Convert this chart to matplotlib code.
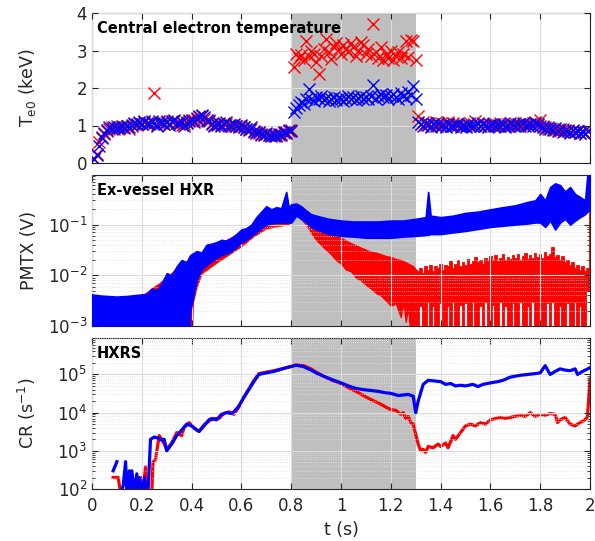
import numpy as np
import matplotlib.pyplot as plt
from matplotlib.ticker import LogLocator, NullFormatter, FuncFormatter

# --- datos panel superior: Te0 (keV), muestras cada 10 ms ---
t_te = np.arange(1, 200) / 100.0

te_blue = [0.10, 0.22, 0.45, 0.68, 0.80, 0.88, 0.95, 0.92, 0.97, 0.93,
           0.95, 0.98, 0.93, 1.00, 0.96, 1.02, 1.08, 1.05, 1.10, 1.03,
           1.12, 1.08, 1.05, 1.10, 1.06, 1.00, 1.12, 1.08, 1.05, 1.10,
           1.02, 1.12, 1.15, 1.08, 1.05, 1.10, 1.00, 1.08, 1.12, 1.15,
           1.10, 1.18, 1.25, 1.28, 1.22, 1.15, 1.12, 1.05, 1.00, 1.02,
           1.08, 1.00, 1.05, 1.10, 1.02, 0.98, 1.05, 1.00, 0.95, 1.02,
           0.95, 0.92, 0.88, 0.95, 0.85, 0.80, 0.82, 0.78, 0.75, 0.80,
           0.74, 0.72, 0.76, 0.73, 0.78, 0.75, 0.82, 0.80, 0.88, 0.85,
           1.35, 1.48, 1.55, 1.62, 1.58, 1.70, 1.98, 1.72, 1.65, 1.75,
           1.70, 1.78, 1.68, 1.74, 1.66, 1.72, 1.76, 1.68, 1.74, 1.70,
           1.66, 1.72, 1.78, 1.70, 1.75, 1.68, 1.74, 1.80, 1.72, 1.76,
           1.70, 1.78, 2.08, 1.72, 1.80, 1.85, 1.75, 1.82, 1.70, 1.78,
           1.85, 1.76, 1.72, 1.88, 1.80, 1.74, 1.90, 1.82, 2.05, 1.72,
           1.10, 1.05, 0.98, 1.08, 1.02, 0.95, 1.05, 1.00, 1.06, 0.98,
           1.02, 0.96, 1.04, 1.00, 0.98, 1.05, 1.02, 0.95, 1.00, 0.97,
           1.04, 1.00, 0.98, 1.02, 1.06, 0.99, 1.03, 1.00, 0.97, 1.02,
           1.05, 0.98, 1.02, 1.00, 1.04, 0.97, 1.00, 1.08, 1.02, 0.98,
           1.03, 1.00, 1.06, 0.98, 1.02, 1.05, 1.00, 1.08, 1.04, 1.00,
           0.95, 0.92, 0.96, 0.90, 0.88, 0.93, 0.86, 0.90, 0.84, 0.88,
           0.85, 0.80, 0.88, 0.82, 0.86, 0.80, 0.84, 0.78, 0.85]

te_red = [0.12, 0.25, 0.55, 0.70, 0.78, 0.85, 0.90, 0.95, 0.92, 0.98,
          0.93, 0.97, 0.95, 0.99, 0.92, 1.00, 1.05, 1.02, 1.08, 1.05,
          1.10, 1.05, 1.08, 1.12, 1.88, 1.02, 1.08, 1.10, 1.03, 1.12,
          1.05, 1.10, 1.12, 1.06, 1.08, 1.02, 1.05, 1.10, 1.15, 1.12,
          1.15, 1.20, 1.22, 1.25, 1.18, 1.12, 1.15, 1.08, 1.02, 1.05,
          1.05, 1.02, 1.08, 1.05, 1.00, 1.02, 1.00, 0.98, 0.98, 1.00,
          0.97, 0.90, 0.90, 0.92, 0.82, 0.83, 0.80, 0.76, 0.78, 0.77,
          0.76, 0.74, 0.72, 0.75, 0.76, 0.78, 0.80, 0.84, 0.85, 0.88,
          2.55, 2.92, 2.80, 2.88, 2.75, 3.25, 2.85, 3.00, 2.90, 2.70,
          2.38, 2.85, 3.05, 3.30, 2.95, 2.78, 3.10, 3.20, 3.05, 2.90,
          3.15, 3.05, 2.95, 3.20, 3.10, 2.85, 3.00, 3.22, 3.15, 2.90,
          3.05, 2.85, 3.70, 2.95, 2.80, 3.10, 2.75, 2.90, 2.80, 3.00,
          2.75, 2.85, 2.95, 2.80, 2.90, 3.25, 2.82, 3.28, 3.25, 2.75,
          1.25, 1.05, 1.10, 1.02, 1.08, 0.98, 1.05, 1.10, 1.00, 1.08,
          1.05, 1.00, 1.10, 0.98, 1.06, 1.02, 1.08, 0.99, 1.05, 1.00,
          1.02, 1.08, 1.00, 1.12, 1.04, 0.98, 1.06, 1.02, 1.00, 1.05,
          1.00, 1.04, 0.98, 1.06, 1.02, 1.00, 1.05, 0.98, 1.03, 1.08,
          1.00, 1.05, 1.02, 1.08, 0.98, 1.04, 1.06, 1.10, 1.02, 1.15,
          0.98, 0.95, 0.92, 0.94, 0.90, 0.88, 0.92, 0.86, 0.90, 0.85,
          0.88, 0.84, 0.86, 0.82, 0.85, 0.80, 0.83, 0.80, 0.86]

# --- panel medio: envolventes de la señal PMTX (V) ---
t_pm_blue = [0.00, 0.03, 0.06, 0.10, 0.14, 0.18, 0.22, 0.24, 0.26, 0.28,
             0.30, 0.32, 0.34, 0.36, 0.38, 0.39, 0.395, 0.42, 0.44, 0.46,
             0.48, 0.50, 0.52, 0.54, 0.56, 0.58, 0.60, 0.62, 0.64, 0.66,
             0.68, 0.70, 0.72, 0.74, 0.76, 0.78, 0.79, 0.80, 0.82, 0.84,
             0.86, 0.88, 0.90, 0.95, 1.00, 1.05, 1.10, 1.15, 1.20, 1.25,
             1.30, 1.34, 1.35, 1.36, 1.40, 1.45, 1.50, 1.55, 1.60, 1.65,
             1.70, 1.75, 1.78, 1.80, 1.82, 1.84, 1.86, 1.88, 1.90, 1.92,
             1.94, 1.96, 1.98, 1.99, 2.00]
pm_blue_hi = [4.2e-3, 4.0e-3, 3.9e-3, 3.8e-3, 3.9e-3, 4.1e-3, 4.3e-3, 5.5e-3, 5.0e-3, 7.0e-3,
              1.1e-2, 1.0e-2, 1.5e-2, 2.0e-2, 1.8e-2, 2.3e-2, 2.5e-2, 3.0e-2, 2.8e-2, 4.0e-2,
              4.2e-2, 4.5e-2, 5.0e-2, 4.8e-2, 5.5e-2, 6.5e-2, 8.0e-2, 8.5e-2, 1.0e-1, 1.4e-1,
              1.8e-1, 2.3e-1, 2.0e-1, 2.2e-1, 2.1e-1, 4.4e-1, 2.2e-1, 2.5e-1, 2.6e-1, 2.3e-1,
              1.9e-1, 1.6e-1, 1.5e-1, 1.3e-1, 1.2e-1, 1.15e-1, 1.15e-1, 1.15e-1, 1.2e-1, 1.2e-1,
              1.3e-1, 1.4e-1, 4.4e-1, 1.5e-1, 1.4e-1, 1.5e-1, 1.7e-1, 1.8e-1, 2.0e-1, 2.2e-1,
              2.4e-1, 2.8e-1, 3.0e-1, 4.0e-1, 3.0e-1, 5.5e-1, 6.5e-1, 6.0e-1, 4.5e-1, 5.5e-1,
              4.0e-1, 3.5e-1, 3.0e-1, 1.0, 1.0]
pm_blue_lo = [5e-4, 5e-4, 5e-4, 5e-4, 5e-4, 5e-4, 5e-4, 5e-4, 5e-4, 5e-4,
              5e-4, 5e-4, 5e-4, 5e-4, 5e-4, 5e-4, 2.0e-3, 8e-3, 1.3e-2, 1.6e-2,
              1.9e-2, 2.2e-2, 2.5e-2, 2.7e-2, 3.0e-2, 3.6e-2, 4.5e-2, 5.0e-2, 6.0e-2, 7.0e-2,
              8.5e-2, 1.0e-1, 1.05e-1, 1.1e-1, 1.1e-1, 1.1e-1, 1.1e-1, 1.1e-1, 1.5e-1, 1.3e-1,
              1.1e-1, 9e-2, 8e-2, 6.5e-2, 6.0e-2, 5.8e-2, 5.5e-2, 5.5e-2, 5.5e-2, 5.8e-2,
              6.0e-2, 6.2e-2, 6.3e-2, 6.5e-2, 6.5e-2, 7.0e-2, 7.5e-2, 8.2e-2, 9e-2, 9.5e-2,
              1.0e-1, 1.05e-1, 1.1e-1, 1.1e-1, 9e-2, 1.2e-1, 8e-2, 1.1e-1, 1.3e-1, 1.0e-1,
              1.2e-1, 1.4e-1, 1.6e-1, 1.8e-1, 2e-1]

t_pm_red = [0.00, 0.10, 0.20, 0.30, 0.36, 0.39, 0.40, 0.405, 0.42, 0.44,
            0.50, 0.60, 0.65, 0.70, 0.75, 0.78,
            0.80, 0.82, 0.84, 0.86, 0.88, 0.90, 0.92, 0.94, 0.96, 0.98,
            1.00, 1.02, 1.04, 1.06, 1.08, 1.10, 1.12, 1.14, 1.16, 1.18,
            1.20, 1.22, 1.24, 1.25, 1.26, 1.27, 1.28, 1.29, 1.30,
            1.31, 1.32, 1.33, 1.34, 1.35, 1.36, 1.37, 1.38, 1.39, 1.40,
            1.41, 1.42, 1.43, 1.44, 1.45, 1.46, 1.47, 1.48, 1.49, 1.50,
            1.51, 1.52, 1.53, 1.54, 1.55, 1.56, 1.57, 1.58, 1.59, 1.60,
            1.61, 1.62, 1.63, 1.64, 1.65, 1.66, 1.67, 1.68, 1.69, 1.70,
            1.71, 1.72, 1.73, 1.74, 1.75, 1.76, 1.77, 1.78, 1.79, 1.80,
            1.81, 1.82, 1.83, 1.84, 1.85, 1.86, 1.87, 1.88, 1.89, 1.90,
            1.91, 1.92, 1.93, 1.94, 1.95, 1.96, 1.97, 1.98, 1.99, 2.00]
pm_red_hi = [3.9e-3, 3.6e-3, 3.9e-3, 9e-3, 1.7e-2, 2.0e-2, 2.2e-2, 2.3e-2, 2.6e-2, 2.7e-2,
             4.0e-2, 7.0e-2, 9e-2, 1.9e-1, 1.9e-1, 2.0e-1,
             2.2e-1, 2.4e-1, 2.2e-1, 1.8e-1, 1.4e-1, 1.1e-1, 9.5e-2, 8e-2, 7e-2, 6.2e-2,
             5.5e-2, 4.8e-2, 4.3e-2, 3.9e-2, 3.5e-2, 3.2e-2, 2.9e-2, 2.8e-2, 2.6e-2, 2.4e-2,
             2.3e-2, 2.1e-2, 2.0e-2, 1.9e-2, 1.8e-2, 1.7e-2, 1.6e-2, 1.5e-2, 1.3e-2,
             1.2e-2, 1.4e-2, 1.1e-2, 1.5e-2, 1.3e-2, 1.6e-2, 1.2e-2, 1.5e-2, 1.4e-2, 1.7e-2,
             1.3e-2, 1.6e-2, 1.5e-2, 1.9e-2, 1.4e-2, 1.7e-2, 2.0e-2, 1.5e-2, 1.8e-2, 1.6e-2,
             2.1e-2, 1.7e-2, 1.9e-2, 2.3e-2, 1.8e-2, 2.0e-2, 1.7e-2, 2.2e-2, 1.9e-2, 2.4e-2,
             2.0e-2, 2.5e-2, 1.9e-2, 2.2e-2, 2.6e-2, 2.0e-2, 2.3e-2, 2.1e-2, 2.5e-2, 2.2e-2,
             2.6e-2, 2.0e-2, 2.4e-2, 2.7e-2, 2.1e-2, 2.5e-2, 2.2e-2, 2.8e-2, 2.3e-2, 2.6e-2,
             2.2e-2, 2.9e-2, 2.4e-2, 2.6e-2, 3.6e-2, 2.3e-2, 2.5e-2, 2.0e-2, 2.4e-2, 1.8e-2,
             2.0e-2, 1.6e-2, 1.8e-2, 1.4e-2, 1.6e-2, 1.3e-2, 1.5e-2, 1.2e-2, 1.4e-2, 2e-1]
pm_red_lo = [5e-4, 5e-4, 5e-4, 5e-4, 5e-4, 5e-4, 5e-4, 3e-3, 6e-3, 1.1e-2,
             1.8e-2, 3.8e-2, 6e-2, 8.5e-2, 9.5e-2, 1.0e-1,
             1.1e-1, 1.6e-1, 1.3e-1, 1.0e-1, 7e-2, 5e-2, 4e-2, 3.2e-2, 2.6e-2, 2.0e-2,
             1.7e-2, 1.3e-2, 1.2e-2, 9e-3, 8e-3, 6.5e-3, 5.5e-3, 4.5e-3, 4e-3, 3.2e-3,
             2.5e-3, 2.8e-3, 1.5e-3, 3e-3, 1.2e-3, 2.5e-3, 5e-4, 5e-4, 5e-4,
             5e-4, 2.5e-3, 5e-4, 5e-4, 3e-3, 5e-4, 2.5e-3, 5e-4, 5e-4, 2.8e-3,
             5e-4, 5e-4, 2.5e-3, 5e-4, 3e-3, 5e-4, 5e-4, 2.6e-3, 5e-4, 2.8e-3,
             5e-4, 5e-4, 3e-3, 5e-4, 5e-4, 2.5e-3, 5e-4, 3e-3, 5e-4, 5e-4,
             2.6e-3, 5e-4, 5e-4, 3e-3, 5e-4, 2.5e-3, 5e-4, 5e-4, 2.8e-3, 5e-4,
             5e-4, 3e-3, 5e-4, 5e-4, 2.5e-3, 5e-4, 3e-3, 5e-4, 5e-4, 2.6e-3,
             5e-4, 5e-4, 2.8e-3, 5e-4, 3e-3, 5e-4, 5e-4, 2.5e-3, 5e-4, 5e-4,
             2.8e-3, 5e-4, 5e-4, 3e-3, 5e-4, 2.5e-3, 5e-4, 5e-4, 5e-3, 1e-2]

# --- panel inferior: tasa de cuentas HXRS (s^-1) ---
t_cr_blue = [0.085, 0.10, 0.105, 0.115, 0.125, 0.135, 0.14, 0.15, 0.155, 0.16,
             0.17, 0.18, 0.185, 0.19, 0.20, 0.21, 0.22, 0.225, 0.235, 0.25,
             0.27, 0.28, 0.29, 0.30, 0.32, 0.34, 0.36, 0.38, 0.40, 0.42,
             0.43, 0.45, 0.47, 0.48, 0.50, 0.52, 0.54, 0.56, 0.57, 0.59,
             0.61, 0.63, 0.65, 0.67, 0.70, 0.73, 0.75, 0.78, 0.80, 0.82,
             0.85, 0.88, 0.90, 0.93, 0.96, 1.00, 1.03, 1.06, 1.09, 1.12,
             1.15, 1.18, 1.20, 1.23, 1.25, 1.27, 1.29, 1.30, 1.31, 1.33,
             1.35, 1.37, 1.40, 1.42, 1.44, 1.46, 1.48, 1.50, 1.53, 1.55,
             1.57, 1.60, 1.63, 1.65, 1.68, 1.70, 1.72, 1.75, 1.78, 1.80,
             1.82, 1.84, 1.86, 1.88, 1.90, 1.92, 1.94, 1.95, 1.97, 2.00]
cr_blue = [300, 520, np.nan, 80, 120, 520, 80, 300, 80, 300,
           80, 250, 80, 200, 80, 200, 80, 80, 2000, 2300,
           2100, 1900, 2000, 1000, 1500, 2500, 3500, 5000, 4500, 3500,
           3200, 4500, 6500, 7000, 6500, 9000, 10000, 9500, 10500, 15000,
           25000, 40000, 65000, 100000, 110000, 120000, 130000, 150000, 160000, 175000,
           160000, 130000, 110000, 90000, 75000, 60000, 50000, 43000, 40000, 38000,
           36000, 33000, 32000, 28000, 29000, 30000, 27000, 10000, 20000, 55000,
           70000, 68000, 65000, 55000, 58000, 50000, 52000, 50000, 55000, 48000,
           55000, 60000, 65000, 70000, 85000, 90000, 95000, 100000, 105000, 110000,
           170000, 100000, 120000, 140000, 130000, 125000, 140000, 100000, 120000, 150000]

t_cr_red = [0.085, 0.105, 0.115, 0.19, 0.20, 0.205, 0.215, 0.22, 0.24, 0.245,
            0.255, 0.27, 0.28, 0.29, 0.30, 0.32, 0.34, 0.36, 0.37, 0.39,
            0.41, 0.43, 0.45, 0.47, 0.49, 0.51, 0.53, 0.55, 0.57, 0.59,
            0.61, 0.63, 0.65, 0.67, 0.70, 0.73, 0.75, 0.78, 0.80, 0.82,
            0.85, 0.88, 0.90, 0.93, 0.96, 1.00, 1.03, 1.06, 1.09, 1.12,
            1.15, 1.18, 1.20, 1.22, 1.24, 1.25, 1.26, 1.27, 1.28, 1.29,
            1.30, 1.31, 1.32, 1.33, 1.34, 1.35, 1.37, 1.39, 1.40, 1.42,
            1.43, 1.45, 1.46, 1.48, 1.50, 1.52, 1.54, 1.56, 1.58, 1.60,
            1.62, 1.64, 1.66, 1.68, 1.70, 1.72, 1.74, 1.76, 1.78, 1.80,
            1.82, 1.84, 1.86, 1.87, 1.88, 1.90, 1.92, 1.94, 1.96, 1.98,
            1.99, 2.00]
cr_red = [200, 200, 80, 80, 200, 100, 380, 80, 80, 500,
          600, 2500, 2000, 1500, 1100, 1600, 3000, 2500, 4000, 5500,
          4000, 3300, 4800, 6000, 7000, 7000, 9500, 10500, 9000, 14000,
          26000, 42000, 70000, 105000, 115000, 125000, 135000, 150000, 165000, 180000,
          170000, 140000, 115000, 90000, 72000, 58000, 45000, 36000, 28000, 22000,
          18000, 14000, 12000, 11500, 9000, 10000, 7000, 8000, 5500, 5000,
          2700, 1500, 1000, 1100, 900, 1300, 1200, 1500, 1300, 1600,
          1200, 2500, 2000, 3000, 4500, 5000, 4500, 5500, 5000, 6500,
          7000, 7500, 7000, 7500, 8000, 8500, 8000, 10000, 8000, 9000,
          8500, 9500, 9000, 5500, 6500, 7500, 5000, 4500, 5500, 6500,
          8000, 75000]

t_shade = (0.8, 1.3)

# --- figura ---
plt.rcParams['font.family'] = 'DejaVu Sans'
plt.rcParams['font.size'] = 12
dark = '#262626'

fig = plt.figure(figsize=(5.95, 5.41), dpi=100)
left, width = 92 / 595, 498 / 595
ax1 = fig.add_axes([left, 1 - 163 / 541, width, 150 / 541])
ax2 = fig.add_axes([left, 1 - 326 / 541, width, 151 / 541])
ax3 = fig.add_axes([left, 1 - 489 / 541, width, 151 / 541])

for ax in (ax1, ax2, ax3):
    ax.axvspan(*t_shade, color='#bfbfbf', lw=0, zorder=0.5)

ax1.plot(t_te, te_red, 'x', color='red', ms=8, mew=1.0, zorder=3)
ax1.plot(t_te, te_blue, 'x', color='blue', ms=8, mew=1.0, zorder=3)
ax1.set_ylim(0, 4)
ax1.set_yticks([0, 1, 2, 3, 4])
ax1.set_ylabel('T$_\\mathregular{e0}$ (keV)', fontsize=12.5)

# la parte ruidosa tras 1.3 s se dibuja en escalones
k = t_pm_red.index(1.30)
ax2.fill_between(t_pm_red[:k + 1], pm_red_lo[:k + 1], pm_red_hi[:k + 1],
                 color='red', lw=1.0, edgecolor='red', zorder=2)
ax2.fill_between(t_pm_red[k:], pm_red_lo[k:], pm_red_hi[k:], step='mid',
                 color='red', lw=0.6, edgecolor='red', zorder=2)
ax2.fill_between(t_pm_blue, pm_blue_lo, pm_blue_hi, color='blue', lw=1.2, edgecolor='blue', zorder=3)
ax2.set_yscale('log')
ax2.set_ylim(1e-3, 0.95)
ax2.set_ylabel('PMTX (V)', fontsize=12.5)

ax3.plot(t_cr_red, cr_red, color='red', lw=2.3, zorder=2)
ax3.plot(t_cr_blue, cr_blue, color='blue', lw=2.3, zorder=3)
ax3.set_yscale('log')
ax3.set_ylim(1e2, 9e5)
ax3.set_ylabel('CR (s$^\\mathregular{-1}$)', fontsize=12.5)
ax3.set_xlabel('t (s)', fontsize=12.5)

titles = ['Central electron temperature', 'Ex-vessel HXR', 'HXRS']
for ax, ttl in zip((ax1, ax2, ax3), titles):
    ax.set_xlim(0, 2)
    ax.set_xticks(np.arange(0, 2.01, 0.2))
    ax.xaxis.set_major_formatter(FuncFormatter(lambda v, p: '%g' % round(v, 2)))
    ax.tick_params(direction='in', top=True, right=True, colors=dark,
                   labelcolor=dark, length=4, width=0.8, labelsize=12)
    ax.tick_params(axis='x', pad=6)
    ax.tick_params(which='minor', direction='in', right=True, length=2, colors=dark)
    ax.grid(True, which='major', color='#dcdcdc', lw=0.8)
    for s in ax.spines.values():
        s.set_color(dark)
        s.set_linewidth(0.8)
    ax.text(0.01, 0.95, ttl, transform=ax.transAxes, fontsize=10.5,
            fontweight='bold', va='top', ha='left', zorder=5)
    ax.set_axisbelow(False)
    ax.yaxis.label.set_color(dark)
    ax.xaxis.label.set_color(dark)

for ax in (ax2, ax3):
    ax.yaxis.set_minor_locator(LogLocator(base=10, subs=np.arange(2, 10), numticks=20))
    ax.yaxis.set_minor_formatter(NullFormatter())
    ax.grid(True, which='minor', axis='y', color='#e0e0e0', lw=0.6, ls=':')

ax1.tick_params(labelbottom=False)
ax2.tick_params(labelbottom=False)
for ax in (ax1, ax2, ax3):
    ax.yaxis.set_label_coords(-0.108, 0.5)

fig.savefig('out.png', dpi=100)
